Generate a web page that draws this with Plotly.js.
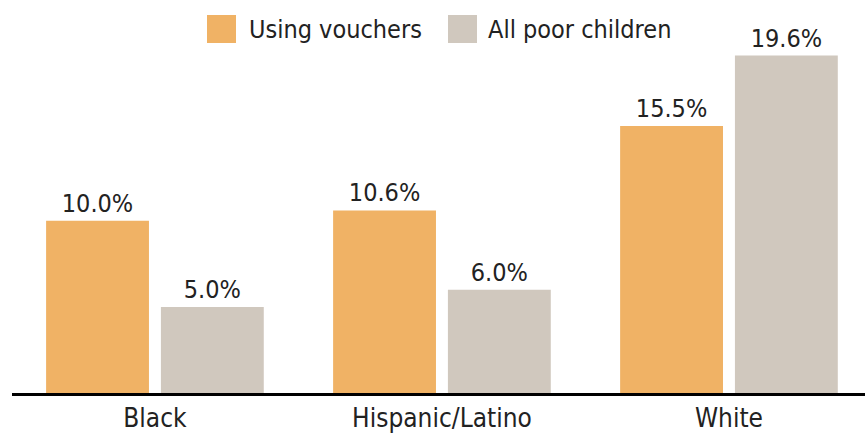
<!DOCTYPE html>
<html><head><meta charset="utf-8">
<script src="https://cdn.plot.ly/plotly-3.0.1.min.js"></script>
<style>html,body{margin:0;padding:0;background:#fff}#chart{width:865px;height:433px}</style>
</head><body><div id="chart"></div>
<script>
const categories = ["Black", "Hispanic/Latino", "White"];
const seriesNames = ["Using vouchers", "All poor children"];
const usingVouchers = [10.0, 10.6, 15.5];
const allPoorChildren = [5.0, 6.0, 19.6];
const colors = ["#F0B265", "#D0C8BE"];
const FONT = "'Liberation Sans Narrow', 'DejaVu Sans Condensed', Roboto, sans-serif";

const fmt = v => v.toFixed(1) + "%";
const traces = [usingVouchers, allPoorChildren].map((vals, i) => ({
  type: "bar", name: seriesNames[i], x: categories, y: vals,
  marker: {color: colors[i]}, text: vals.map(fmt), textposition: "outside",
  textfont: {family: FONT, size: 25, color: "#222"}, cliponaxis: false,
  showlegend: false, hoverinfo: "none"
}));

const shapes = [], annotations = [];
const legendX = [207, 448], legendTextX = [247, 486];
seriesNames.forEach((n, i) => {
  shapes.push({type: "rect", xref: "paper", yref: "paper",
    x0: (legendX[i] - 12) / 853, x1: (legendX[i] + 29 - 12) / 853,
    y0: (393 - 43) / 379, y1: (393 - 15) / 379,
    fillcolor: colors[i], line: {width: 0}});
  annotations.push({xref: "paper", yref: "paper", x: (legendTextX[i] - 12) / 853, y: (393 - 29) / 379,
    xanchor: "left", yanchor: "middle", text: n, showarrow: false,
    font: {family: FONT, size: 25, color: "#222"}});
});

Plotly.newPlot("chart", traces, {
  width: 865, height: 433,
  margin: {l: 12, r: 0, t: 14, b: 40},
  barmode: "group", bargap: 0.2, bargroupgap: 0.104,
  paper_bgcolor: "#fff", plot_bgcolor: "#fff",
  font: {family: FONT, color: "#222"},
  xaxis: {range: [-0.498, 2.474], showline: true, linecolor: "#000", linewidth: 3,
    ticks: "", tickfont: {family: FONT, size: 26, color: "#222"}, showgrid: false, zeroline: false},
  yaxis: {range: [0, 22.01], visible: false, showgrid: false, zeroline: false},
  shapes: shapes, annotations: annotations
}, {displayModeBar: false, staticPlot: true});
</script></body></html>
